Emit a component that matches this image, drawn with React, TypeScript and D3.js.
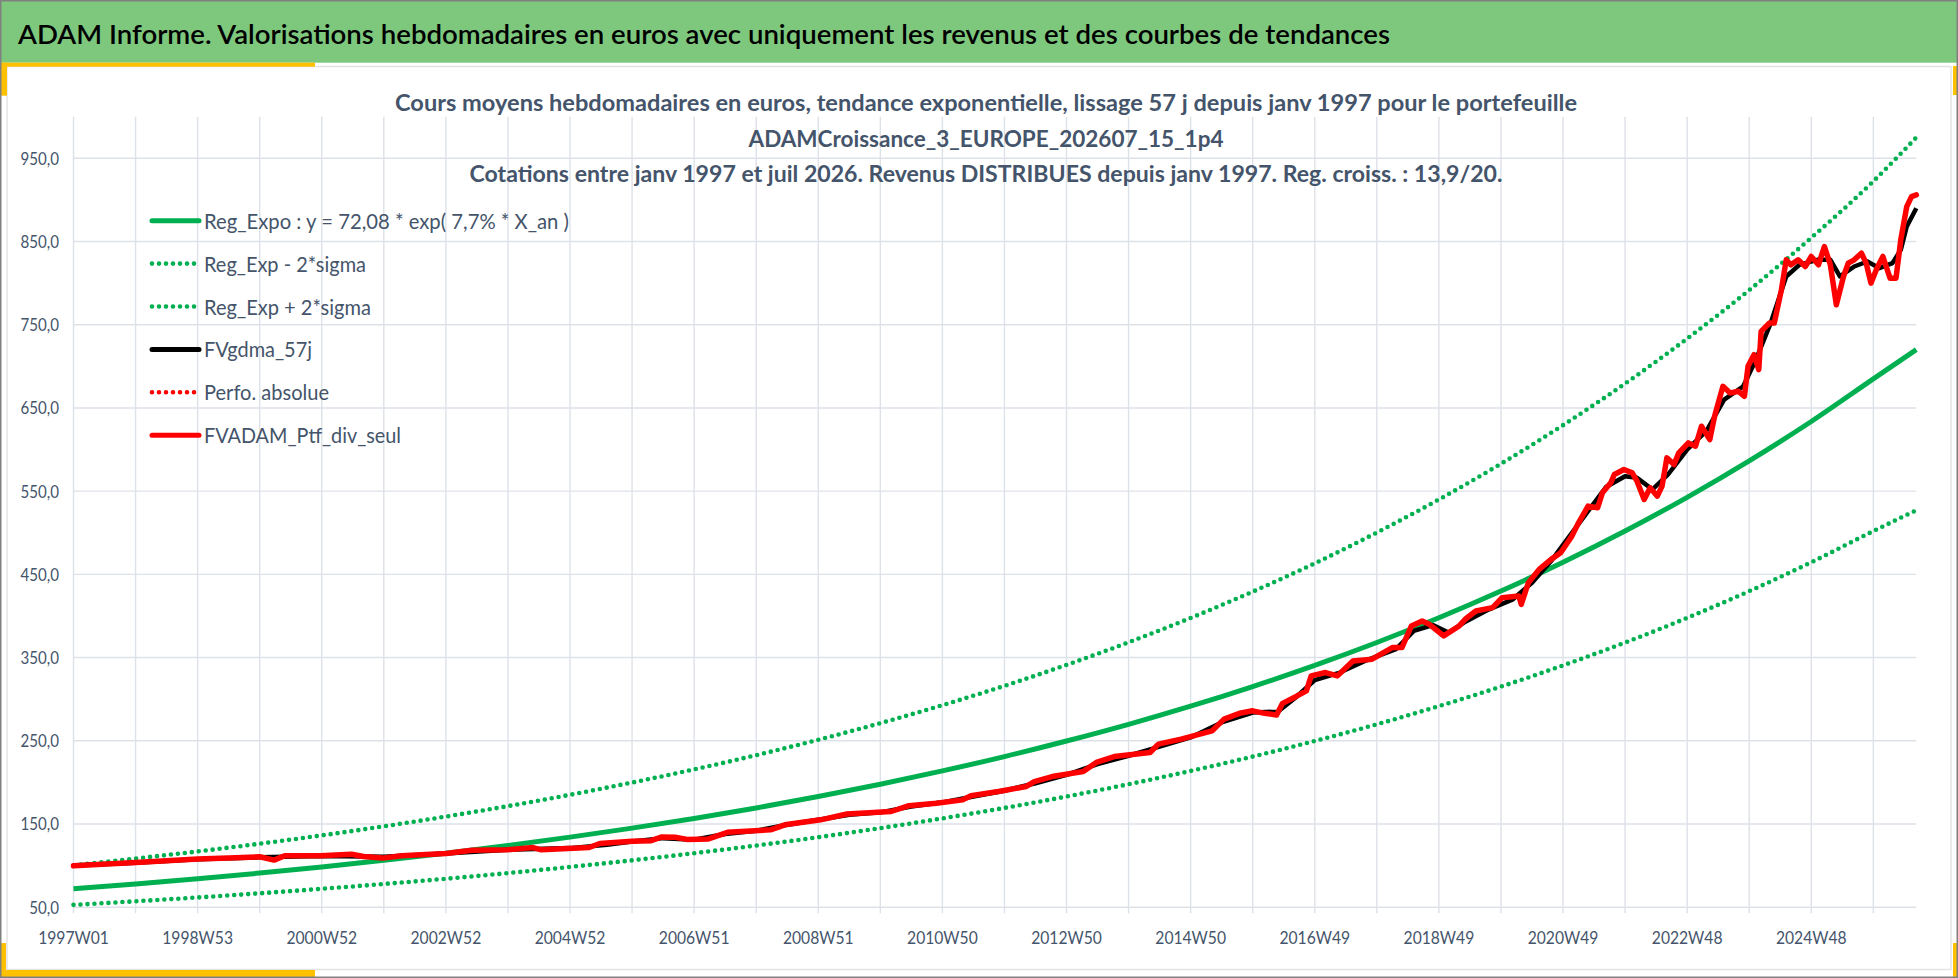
import React from "react";
import * as d3 from "d3";

// weekly index 0 = 1997W01, last point = 2026W31
const LAST_WEEK = 1544;

const HEADER_TITLE =
  "ADAM Informe. Valorisations hebdomadaires en euros avec uniquement les revenus et des courbes de tendances";
const CHART_TITLE = [
  "Cours moyens hebdomadaires  en euros, tendance exponentielle, lissage 57 j depuis janv 1997 pour le portefeuille",
  "ADAMCroissance_3_EUROPE_202607_15_1p4",
  "Cotations entre janv 1997 et juil 2026. Revenus DISTRIBUES depuis janv 1997. Reg. croiss. : 13,9/20.",
];

const X_LABELS = [
  "1997W01", "1998W53", "2000W52", "2002W52", "2004W52", "2006W51", "2008W51", "2010W50",
  "2012W50", "2014W50", "2016W49", "2018W49", "2020W49", "2022W48", "2024W48",
];
const Y_TICKS = [50, 150, 250, 350, 450, 550, 650, 750, 850, 950];

// trend curves, read once per 52 weeks
const TREND_WEEKS = [
  0, 52, 104, 156, 208, 260, 312, 364, 416, 468, 520, 572, 624, 676, 728, 780, 832, 884, 936, 988,
  1040, 1092, 1144, 1196, 1248, 1300, 1352, 1404, 1456, 1508, 1544,
];
const REG_EXPO = [
  72.1, 77.9, 84.2, 91.0, 98.3, 106.3, 114.9, 124.2, 134.2, 145.0, 156.7, 169.3, 183.0, 197.8, 213.8,
  231.0, 249.7, 269.8, 291.6, 315.2, 340.6, 368.1, 397.8, 429.9, 464.6, 502.1, 542.6, 586.4, 633.7,
  684.9, 720,
];
const REG_UPPER = [
  100.5, 108.5, 117, 126.3, 136.3, 147.2, 158.9, 171.5, 185.1, 199.8, 215.6, 232.7, 251.2, 271.2,
  292.8, 316.0, 341.2, 368.3, 397.6, 429.2, 463.3, 500.2, 540.0, 582.9, 629.3, 679.3, 733.3, 791.6,
  854.5, 922.4, 975,
];
const REG_LOWER = [
  52.8, 57.1, 61.7, 66.7, 72.1, 77.9, 84.2, 91.0, 98.4, 106.3, 114.9, 124.1, 134.1, 145.0, 156.7,
  169.3, 183.0, 197.8, 213.7, 231.0, 249.7, 269.8, 291.6, 315.1, 340.6, 368.0, 397.7, 429.8, 464.5,
  502.0, 527,
];

// [week index, value]
const PTF_DIV_SEUL: [number, number][] = [
  [0, 99.8], [52, 103.8], [104, 107.8], [136, 109.4], [156, 110.6], [168, 106.6], [177, 111.8],
  [207, 111.8], [233, 113.7], [243, 111], [259, 109], [275, 111.8], [312, 114.5], [334, 118.5],
  [363, 119], [385, 121.7], [392, 119], [432, 121.7], [441, 126.5], [468, 129.3], [484, 130],
  [493, 134.5], [504, 134], [514, 131.5], [532, 132], [548, 140], [584, 143], [596, 149], [626, 155],
  [648, 162], [685, 165], [700, 172], [723, 175], [745, 179], [752, 184], [775, 189], [798, 195],
  [805, 201], [820, 207], [846, 213], [857, 224], [872, 231], [902, 236], [909, 246], [928, 252],
  [954, 262], [964, 276], [977, 283], [988, 286], [998, 283], [1008, 281], [1013, 295], [1024, 303],
  [1033, 310], [1037, 328], [1049, 332], [1059, 328], [1072, 346], [1088, 348], [1105, 362],
  [1113, 362], [1121, 388], [1130, 394], [1136, 390], [1148, 376], [1161, 388], [1166, 396],
  [1175, 406], [1189, 410], [1197, 422], [1211, 424], [1213, 414], [1219, 440], [1228, 456],
  [1238, 468], [1246, 476], [1255, 495], [1261, 512], [1269, 532], [1277, 530], [1281, 548],
  [1288, 560], [1291, 570], [1299, 576], [1306, 572], [1310, 562], [1316, 540], [1321, 554],
  [1327, 544], [1331, 556], [1335, 590], [1341, 582], [1345, 596], [1353, 608], [1359, 604],
  [1364, 628], [1371, 612], [1375, 640], [1382, 676], [1388, 668], [1395, 670], [1400, 664],
  [1403, 700], [1408, 714], [1412, 696], [1414, 742], [1421, 752], [1425, 752], [1431, 792],
  [1435, 828], [1439, 822], [1445, 828], [1451, 820], [1456, 832], [1462, 822], [1467, 844],
  [1472, 822], [1477, 774], [1483, 808], [1487, 824], [1492, 828], [1498, 836], [1502, 824],
  [1506, 800], [1511, 818], [1516, 832], [1522, 806], [1527, 806], [1531, 852], [1536, 892],
  [1540, 904], [1544, 906],
];

const FV_GDMA_57J: [number, number][] = [
  [0, 100], [52, 103.5], [104, 107.5], [156, 110], [208, 111.5], [260, 110.5], [312, 114.5],
  [364, 119], [416, 121], [447, 125], [468, 129], [494, 133], [520, 131], [546, 138], [572, 142],
  [598, 149], [624, 155], [650, 161], [676, 164], [702, 171], [728, 176], [754, 183], [780, 190],
  [806, 199], [832, 209], [858, 222], [884, 232], [910, 243], [936, 254], [962, 272], [988, 284],
  [1009, 285], [1024, 302], [1040, 323], [1061, 332], [1082, 346], [1108, 360], [1123, 382],
  [1139, 389], [1152, 380], [1165, 392], [1186, 408], [1206, 420], [1222, 440], [1238, 466],
  [1253, 495], [1269, 526], [1284, 555], [1300, 568], [1310, 566], [1323, 552], [1336, 570],
  [1352, 600], [1368, 622], [1383, 660], [1399, 676], [1409, 706], [1422, 752], [1435, 808],
  [1446, 822], [1461, 828], [1472, 828], [1480, 808], [1492, 820], [1503, 826], [1513, 818],
  [1524, 824], [1531, 840], [1536, 868], [1544, 890],
];

const LEGEND = [
  { label: "Reg_Expo : y = 72,08 * exp( 7,7% *  X_an )", color: "#00B050", dotted: false, w: 365 },
  { label: "Reg_Exp - 2*sigma", color: "#00B050", dotted: true, w: 162 },
  { label: "Reg_Exp + 2*sigma", color: "#00B050", dotted: true, w: 167 },
  { label: "FVgdma_57j", color: "#000000", dotted: false, w: 108 },
  { label: "Perfo. absolue", color: "#FF0000", dotted: true, w: 125 },
  { label: "FVADAM_Ptf_div_seul", color: "#FF0000", dotted: false, w: 197 },
];

const FONT = "Lato, 'Open Sans', sans-serif";
const INK = "#44546A";
const GRID = "#DDE1E8";
const GOLD = "#FFC000";
const GREEN = "#00B050";

export default function App() {
  const W = 1958;
  const H = 978;
  const M = { left: 73.5, right: 1916.3, top: 116.7, bottom: 907.2 };

  const x = d3.scaleLinear().domain([0, LAST_WEEK]).range([M.left, M.right]);
  const y = d3.scaleLinear().domain([50, 1000]).range([M.bottom, M.top]);

  const curve = d3
    .line<number>()
    .x((_, i) => x(TREND_WEEKS[i]))
    .y((d) => y(d))
    .curve(d3.curveMonotoneX);
  const raw = d3
    .line<[number, number]>()
    .x((d) => x(d[0]))
    .y((d) => y(d[1]));

  const gridWeeks = d3.range(0, LAST_WEEK + 1, 52);
  const dots = { strokeDasharray: "0 7", strokeLinecap: "round" as const, strokeWidth: 4.6 };

  return (
    <>
      <style>{"body{margin:0}"}</style>
      <svg width={W} height={H} style={{ display: "block", background: "#fff" }}>
        {/* frame */}
        <rect x={0} y={0} width={W} height={H} fill="#fff" />
        <rect x={0} y={0} width={W} height={62.7} fill="#7EC87E" />
        <rect x={7} y={66.5} width={W - 14} height={903} fill="#fff" stroke="#E3E3E3" strokeWidth={1.5} />
        <rect x={0} y={62.7} width={315} height={4} fill={GOLD} />
        <rect x={0} y={62.7} width={7} height={33} fill={GOLD} />
        <rect x={0} y={970} width={315} height={7} fill={GOLD} />
        <rect x={0} y={943} width={6} height={34} fill={GOLD} />
        <rect x={W - 5} y={66} width={5} height={29} fill={GOLD} />
        <rect x={W - 5} y={943} width={5} height={34} fill={GOLD} />
        <rect x={0.75} y={0.75} width={W - 1.5} height={H - 1.5} fill="none" stroke="#808080" strokeWidth={1.5} />

        <text
          x={18}
          y={44}
          fontFamily={FONT}
          fontSize={26}
          fontWeight={600}
          fill="#000"
          textLength={1372}
          lengthAdjust="spacingAndGlyphs"
        >
          {HEADER_TITLE}
        </text>

        {/* grid */}
        {gridWeeks.map((wk) => (
          <line key={`v${wk}`} x1={x(wk)} x2={x(wk)} y1={M.top} y2={M.bottom + 6} stroke={GRID} strokeWidth={1.4} />
        ))}
        {Y_TICKS.map((v) => (
          <line key={`h${v}`} x1={M.left} x2={M.right} y1={y(v)} y2={y(v)} stroke={GRID} strokeWidth={1.4} />
        ))}

        {/* chart title over the plot */}
        {CHART_TITLE.map((t, i) => (
          <text
            key={t}
            x={986}
            y={[111, 147, 182][i]}
            textAnchor="middle"
            fontFamily={FONT}
            fontSize={23}
            fontWeight={700}
            fill={INK}
            textLength={[1182, 475, 1033][i]}
            lengthAdjust="spacingAndGlyphs"
          >
            {t}
          </text>
        ))}

        {/* axes labels */}
        {Y_TICKS.map((v) => (
          <text
            key={`yl${v}`}
            transform={`translate(59,${y(v) + 6.5}) scale(0.84,1)`}
            textAnchor="end"
            fontFamily={FONT}
            fontSize={18}
            fill={INK}
          >
            {d3.format(".1f")(v).replace(".", ",")}
          </text>
        ))}
        {X_LABELS.map((l, i) => (
          <text
            key={l}
            transform={`translate(${x(i * 104)},944) scale(0.87,1)`}
            textAnchor="middle"
            fontFamily={FONT}
            fontSize={18}
            fill={INK}
          >
            {l}
          </text>
        ))}

        {/* series */}
        <path d={curve(REG_EXPO) ?? ""} fill="none" stroke={GREEN} strokeWidth={5} />
        <path d={curve(REG_LOWER) ?? ""} fill="none" stroke={GREEN} {...dots} />
        <path d={curve(REG_UPPER) ?? ""} fill="none" stroke={GREEN} {...dots} />
        <path d={raw(FV_GDMA_57J) ?? ""} fill="none" stroke="#000" strokeWidth={4.5} strokeLinejoin="round" />
        <path
          d={raw(PTF_DIV_SEUL) ?? ""}
          fill="none"
          stroke="#FF0000"
          strokeWidth={5.5}
          strokeLinejoin="round"
          strokeLinecap="round"
        />

        {/* legend */}
        {LEGEND.map((it, i) => {
          const cy = 220.7 + i * 42.9;
          return (
            <g key={it.label}>
              <line
                x1={152}
                x2={199}
                y1={cy}
                y2={cy}
                stroke={it.color}
                {...(it.dotted ? dots : { strokeWidth: 5, strokeLinecap: "round" as const })}
              />
              <text
                x={204}
                y={cy + 8}
                fontFamily={FONT}
                fontSize={22}
                fill={INK}
                textLength={it.w}
                lengthAdjust="spacingAndGlyphs"
              >
                {it.label}
              </text>
            </g>
          );
        })}
      </svg>
    </>
  );
}
